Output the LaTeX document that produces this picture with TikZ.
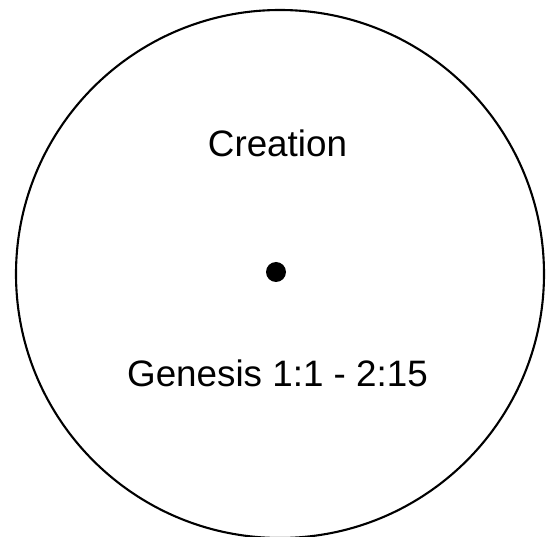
\documentclass[tikz,border=0pt]{standalone}
\usepackage{fontspec}
\setmainfont{Liberation Sans}
\begin{document}
\begin{tikzpicture}[x=1pt,y=-1pt,
  lbl/.style={font=\fontsize{36.8}{44}\selectfont, anchor=base, inner sep=0pt}]
\useasboundingbox (0,0) rectangle (555,537);
\clip (0,0) rectangle (555,537);
\node[circle, draw, line width=2.1pt, minimum size=528pt, inner sep=0pt] (ring) at (280,274) {};
\node[circle, fill=black, minimum size=20pt, inner sep=0pt] (dot) at (276,272) {};
\node[lbl] (title) at (277.5,157) {Creation};
\node[lbl] (ref) at (277.5,387) {Genesis 1:1 - 2:15};
\end{tikzpicture}
\end{document}
